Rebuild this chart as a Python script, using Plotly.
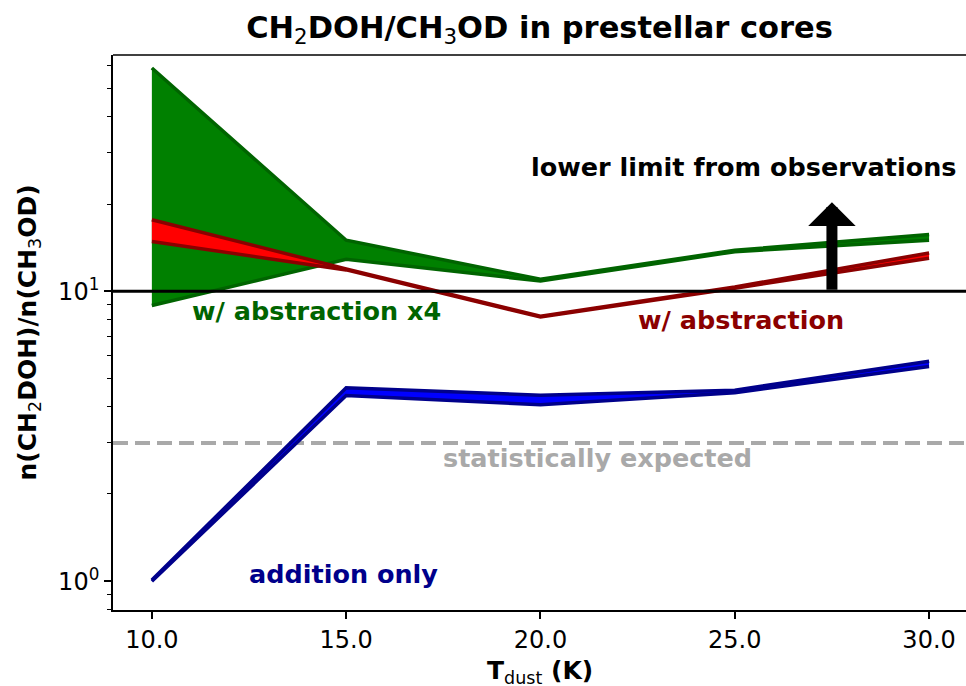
import numpy as np
import plotly.graph_objects as go

# ---- data ----
T_dust = [10.0, 15.0, 20.0, 25.0, 30.0]

abs4_low = [8.93, 12.9, 10.85, 13.7, 15.0]
abs4_high = [58.9, 15.0, 11.0, 13.85, 15.7]

abs_low = [14.86, 11.85, 8.15, 10.25, 13.0]
abs_high = [17.66, 11.95, 8.2, 10.35, 13.56]

add_low = [1.0, 4.37, 4.06, 4.47, 5.5]
add_high = [1.01, 4.65, 4.38, 4.56, 5.74]

statistical_value = 3.0
obs_lower_limit = 10.0
arrow_x = 27.5
arrow_tip = 20.3

x_ticks = [10.0, 15.0, 20.0, 25.0, 30.0]
y_major = [1, 10]
y_major_text = ["10<sup>0</sup>", "10<sup>1</sup>"]
y_minor = [0.8, 0.9, 2, 3, 4, 5, 6, 7, 8, 9, 20, 30, 40, 50, 60]

labels = [
    ("lower limit from observations", 25.23, 26.8, "black"),
    ("w/ abstraction x4", 14.23, 8.58, "#006400"),
    ("w/ abstraction", 25.15, 7.99, "#8B0000"),
    ("statistically expected", 21.47, 2.67, "#A9A9A9"),
    ("addition only", 14.94, 1.057, "#00008B"),
]

FONT = "DejaVu Sans"

fig = go.Figure()

bands = [
    (abs4_low, abs4_high, "#008000", "#006400"),
    (abs_low, abs_high, "#FF0000", "#8B0000"),
    (add_low, add_high, "#0000FF", "#00008B"),
]
for low, high, fillc, edgec in bands:
    fig.add_trace(go.Scatter(x=T_dust, y=low, mode="lines",
                             line=dict(color=edgec, width=3.5),
                             showlegend=False, hoverinfo="skip"))
    fig.add_trace(go.Scatter(x=T_dust, y=high, mode="lines",
                             line=dict(color=edgec, width=3.5),
                             fill="tonexty", fillcolor=fillc,
                             showlegend=False, hoverinfo="skip"))

# horizontal reference lines
fig.add_shape(type="line", xref="paper", x0=0, x1=1, yref="y",
              y0=statistical_value, y1=statistical_value,
              line=dict(color="#A9A9A9", width=4, dash="15px,7px"), layer="below")
fig.add_shape(type="line", xref="paper", x0=0, x1=1, yref="y",
              y0=obs_lower_limit, y1=obs_lower_limit,
              line=dict(color="black", width=3), layer="above")
# top spine
fig.add_shape(type="line", xref="paper", x0=0, x1=1, yref="paper", y0=1, y1=1,
              line=dict(color="black", width=1.7), layer="above")

# arrow
fig.add_annotation(x=arrow_x, y=np.log10(arrow_tip), ax=arrow_x, ay=np.log10(obs_lower_limit),
                   xref="x", yref="y", axref="x", ayref="y",
                   showarrow=True, arrowhead=1, arrowsize=0.72, arrowwidth=11,
                   arrowcolor="black", standoff=0, startstandoff=0, text="")

for txt, xv, yv, col in labels:
    fig.add_annotation(x=xv, y=np.log10(yv), xref="x", yref="y", text="<b>%s</b>" % txt,
                       showarrow=False, xanchor="center", yanchor="middle",
                       font=dict(family=FONT, size=25.5, color=col))

# axis titles as paper annotations for exact placement
fig.add_annotation(x=0.5, y=-62 / 555, xref="paper", yref="paper",
                   text="<b>T</b><sub>dust</sub><b> (K)</b>", showarrow=False,
                   xanchor="center", yanchor="middle",
                   font=dict(family=FONT, size=25, color="black"))
fig.add_annotation(x=-85 / 853, y=0.5, xref="paper", yref="paper",
                   text="<b>n(CH</b><sub>2</sub><b>DOH)/n(CH</b><sub>3</sub><b>OD)</b>",
                   showarrow=False, textangle=-90, xanchor="center", yanchor="middle",
                   font=dict(family=FONT, size=25, color="black"))

fig.update_layout(
    width=966, height=686,
    margin=dict(l=113, r=0, t=55, b=76),
    paper_bgcolor="white", plot_bgcolor="white",
    font=dict(family=FONT, color="black"),
    title=dict(text="<b>CH</b><sub>2</sub><b>DOH/CH</b><sub>3</sub><b>OD in prestellar cores</b>",
               x=0.5, xref="paper", xanchor="center",
               y=1 - 27 / 686, yref="container", yanchor="middle",
               font=dict(family=FONT, size=30.5, color="black")),
)

fig.update_xaxes(range=[9, 30.95], tickvals=x_ticks, tickformat=".1f",
                 ticks="outside", ticklen=7, tickwidth=1.7, tickcolor="black",
                 showline=True, linecolor="black", linewidth=1.7, mirror=False,
                 showgrid=False, zeroline=False, automargin=False,
                 tickfont=dict(family=FONT, size=24, color="black"))

fig.update_yaxes(type="log", range=[np.log10(0.796), np.log10(65.3)],
                 tickvals=y_major, ticktext=y_major_text,
                 ticks="outside", ticklen=7, tickwidth=1.7, tickcolor="black",
                 minor=dict(tickvals=y_minor, ticks="outside", ticklen=4,
                            tickwidth=1.2, tickcolor="black", showgrid=False),
                 showline=True, linecolor="black", linewidth=1.7, mirror=False,
                 showgrid=False, zeroline=False, automargin=False,
                 tickfont=dict(family=FONT, size=24, color="black"))

fig.write_html("out.html", config={"displayModeBar": False},
               post_script="document.body.style.margin='0px';document.body.style.overflow='hidden';")
